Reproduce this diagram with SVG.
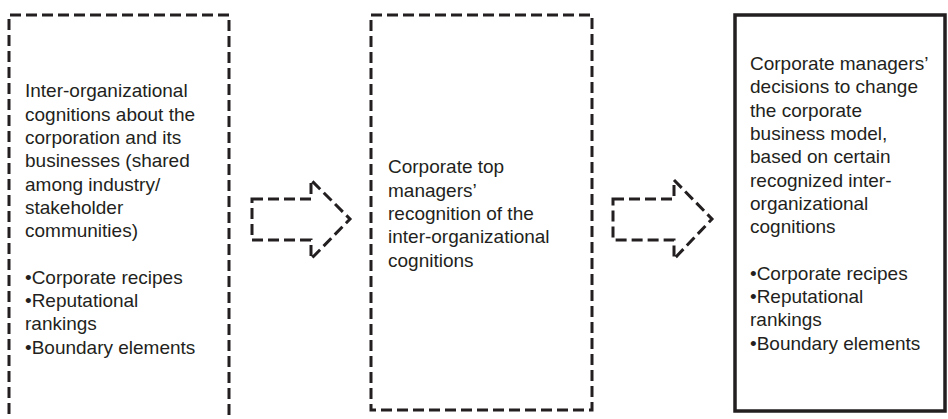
<svg xmlns="http://www.w3.org/2000/svg" width="948" height="419" viewBox="0 0 948 419">
  <style>
    .dash { fill: none; stroke: #231f20; stroke-width: 3; stroke-dasharray: 11 5; }
    .solid { fill: none; stroke: #231f20; stroke-width: 3.5; }
    .lbl { font-family: "Liberation Sans", Arial, sans-serif; font-size: 19px; fill: #231f20; }
  </style>
  <rect width="948" height="419" fill="#ffffff"/>

  <!-- Left box: runs off the bottom edge -->
  <g id="node-cognitions">
    <path class="dash" d="M9,430 V15 H229 V430"/>
    <text class="lbl" x="25" y="97.4">
      <tspan x="25" dy="0">Inter-organizational</tspan>
      <tspan x="25" dy="23.3">cognitions about the</tspan>
      <tspan x="25" dy="23.3">corporation and its</tspan>
      <tspan x="25" dy="23.3">businesses (shared</tspan>
      <tspan x="25" dy="23.3">among industry/</tspan>
      <tspan x="25" dy="23.3">stakeholder</tspan>
      <tspan x="25" dy="23.3">communities)</tspan>
      <tspan x="25" dy="46.6">•Corporate recipes</tspan>
      <tspan x="25" dy="23.3">•Reputational</tspan>
      <tspan x="25" dy="23.3">rankings</tspan>
      <tspan x="25" dy="23.3">•Boundary elements</tspan>
    </text>
  </g>

  <!-- Middle box -->
  <g id="node-recognition">
    <rect class="dash" x="371" y="15" width="221" height="395"/>
    <text class="lbl" x="388" y="173.3">
      <tspan x="388" dy="0">Corporate top</tspan>
      <tspan x="388" dy="23.3">managers’</tspan>
      <tspan x="388" dy="23.3">recognition of the</tspan>
      <tspan x="388" dy="23.3">inter-organizational</tspan>
      <tspan x="388" dy="23.3">cognitions</tspan>
    </text>
  </g>

  <!-- Right box -->
  <g id="node-decisions">
    <rect class="solid" x="735" y="15" width="210" height="396"/>
    <text class="lbl" x="750" y="70">
      <tspan x="750" dy="0">Corporate managers’</tspan>
      <tspan x="750" dy="23.3">decisions to change</tspan>
      <tspan x="750" dy="23.3">the corporate</tspan>
      <tspan x="750" dy="23.3">business model,</tspan>
      <tspan x="750" dy="23.3">based on certain</tspan>
      <tspan x="750" dy="23.3">recognized inter-</tspan>
      <tspan x="750" dy="23.3">organizational</tspan>
      <tspan x="750" dy="23.3">cognitions</tspan>
      <tspan x="750" dy="46.6">•Corporate recipes</tspan>
      <tspan x="750" dy="23.3">•Reputational</tspan>
      <tspan x="750" dy="23.3">rankings</tspan>
      <tspan x="750" dy="23.3">•Boundary elements</tspan>
    </text>
  </g>

  <!-- Block arrows between boxes -->
  <g id="connectors">
    <path class="dash" d="M252,199 H311 V180 L350,219 L311,259 V240 H252 Z"/>
    <path class="dash" d="M613,199 H674 V180 L712,219 L674,259 V240 H613 Z"/>
  </g>
</svg>
